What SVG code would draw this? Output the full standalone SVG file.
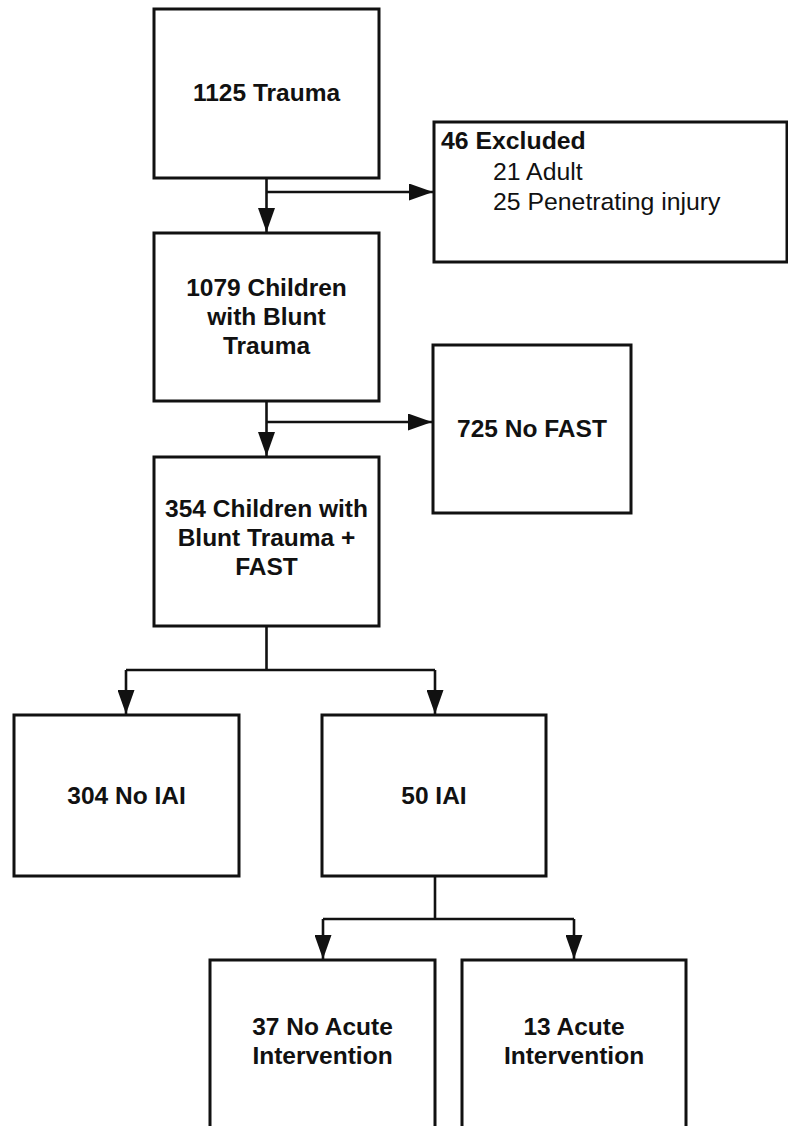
<svg xmlns="http://www.w3.org/2000/svg" width="788" height="1126" viewBox="0 0 788 1126">
<style>
.box{fill:#fff;stroke:#111;stroke-width:3}
.t{font-family:"Liberation Sans",Arial,sans-serif;font-size:24.5px;font-weight:bold;fill:#111;text-anchor:middle}
.r{font-family:"Liberation Sans",Arial,sans-serif;font-size:24.8px;fill:#111}
.c{fill:none;stroke:#111;stroke-width:2.6}
</style>
<defs>
<marker id="ah" markerUnits="userSpaceOnUse" markerWidth="24" markerHeight="17" refX="24" refY="8.5" orient="auto" viewBox="0 0 24 17">
<path d="M0,0 L24,8.5 L0,17 z" fill="#111"/>
</marker>
</defs>
<rect width="788" height="1126" fill="#fff"/>
<g id="connectors">
<path class="c" d="M266.5,178 V232" marker-end="url(#ah)"/>
<path class="c" d="M266.5,192 H433" marker-end="url(#ah)"/>
<path class="c" d="M266.5,401 V456" marker-end="url(#ah)"/>
<path class="c" d="M266.5,422 H432" marker-end="url(#ah)"/>
<path class="c" d="M266.5,626 V670 M126,670 H435"/>
<path class="c" d="M126,670 V714" marker-end="url(#ah)"/>
<path class="c" d="M435,670 V714" marker-end="url(#ah)"/>
<path class="c" d="M435,876 V919 M323,919 H574"/>
<path class="c" d="M323,919 V959" marker-end="url(#ah)"/>
<path class="c" d="M574,919 V959" marker-end="url(#ah)"/>
</g>
<g id="n1"><rect class="box" x="154" y="9" width="225" height="169"/><text class="t" x="266.5" y="101">1125 Trauma</text></g>
<g id="n2"><rect class="box" x="434" y="122" width="353" height="140"/>
<text class="r" x="441" y="149" font-weight="bold">46 Excluded</text>
<text class="r" x="493" y="180">21 Adult</text>
<text class="r" x="493" y="210">25 Penetrating injury</text></g>
<g id="n3"><rect class="box" x="154" y="233" width="225" height="168"/>
<text class="t" x="266.5" y="296">1079 Children</text>
<text class="t" x="266.5" y="325">with Blunt</text>
<text class="t" x="266.5" y="354">Trauma</text></g>
<g id="n4"><rect class="box" x="433" y="345" width="198" height="168"/><text class="t" x="532" y="437">725 No FAST</text></g>
<g id="n5"><rect class="box" x="154" y="457" width="225" height="169"/>
<text class="t" x="266.5" y="517">354 Children with</text>
<text class="t" x="266.5" y="546">Blunt Trauma +</text>
<text class="t" x="266.5" y="575">FAST</text></g>
<g id="n6"><rect class="box" x="14" y="715" width="225" height="161"/><text class="t" x="126.5" y="804">304 No IAI</text></g>
<g id="n7"><rect class="box" x="322" y="715" width="224" height="161"/><text class="t" x="434" y="804">50 IAI</text></g>
<g id="n8"><rect class="box" x="210" y="960" width="225" height="180"/>
<text class="t" x="322.5" y="1035">37 No Acute</text>
<text class="t" x="322.5" y="1064">Intervention</text></g>
<g id="n9"><rect class="box" x="462" y="960" width="224" height="180"/>
<text class="t" x="574" y="1035">13 Acute</text>
<text class="t" x="574" y="1064">Intervention</text></g>
</svg>
